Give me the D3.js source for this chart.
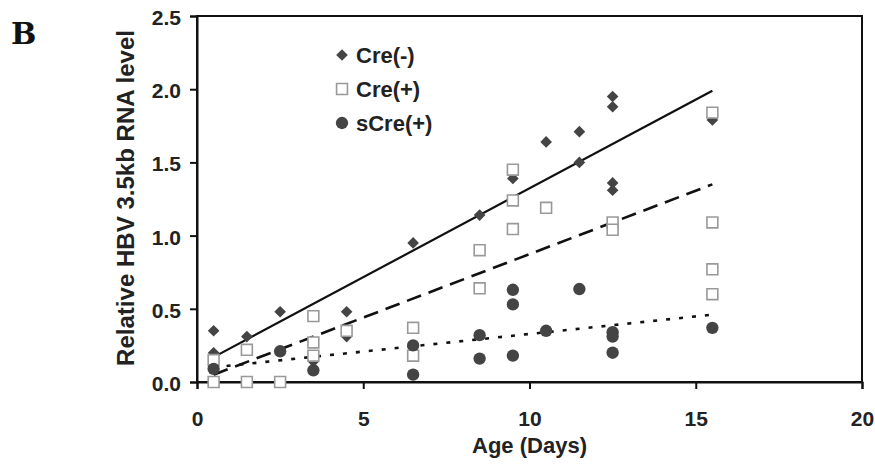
<!DOCTYPE html>
<html>
<head>
<meta charset="utf-8">
<script src="https://cdn.jsdelivr.net/npm/d3@7"></script>
<style>
  body { margin: 0; background: #fff; }
  text { font-family: "Liberation Sans", Arial, sans-serif; font-weight: bold; fill: #222; }
</style>
</head>
<body>
<svg id="chart" width="875" height="465"></svg>
<script>
// values: [age, level]
var creMinus = [
  [0.5, 0.35], [0.5, 0.20], [1.5, 0.31], [2.5, 0.48], [3.5, 0.14],
  [4.5, 0.48], [4.5, 0.31], [6.5, 0.95], [8.5, 1.14], [9.5, 1.39],
  [10.5, 1.64], [11.5, 1.71], [11.5, 1.50], [12.5, 1.95], [12.5, 1.88],
  [12.5, 1.36], [12.5, 1.31], [15.5, 1.79]
];
var crePlus = [
  [0.5, 0.15], [0.5, 0.0], [1.5, 0.22], [1.5, 0.0], [2.5, 0.0],
  [3.5, 0.45], [3.5, 0.27], [3.5, 0.18], [4.5, 0.35], [6.5, 0.37],
  [6.5, 0.18], [8.5, 0.90], [8.5, 0.64], [9.5, 1.45], [9.5, 1.24],
  [9.5, 1.045], [10.5, 1.19], [12.5, 1.09], [12.5, 1.04],
  [15.5, 1.84], [15.5, 1.09], [15.5, 0.77], [15.5, 0.60]
];
var sCrePlus = [
  [0.5, 0.09], [2.5, 0.21], [3.5, 0.08], [6.5, 0.25], [6.5, 0.05],
  [8.5, 0.32], [8.5, 0.16], [9.5, 0.63], [9.5, 0.53], [9.5, 0.18],
  [10.5, 0.35], [11.5, 0.635], [12.5, 0.34], [12.5, 0.31], [12.5, 0.20],
  [15.5, 0.37]
];
// trend lines, end points as drawn
var trendCreMinus = [[0.5, 0.17], [15.5, 1.99]];
var trendCrePlus = [[0.5, 0.05], [15.5, 1.35]];
var trendSCrePlus = [[0.5, 0.10], [15.5, 0.46]];

var xTicks = [0, 5, 10, 15, 20];
var yTicks = [0, 0.5, 1.0, 1.5, 2.0, 2.5];
var legendNames = ["Cre(-)", "Cre(+)", "sCre(+)"];

(function() {
  var svg = d3.select("#chart");
  var mLeft = 197, mRight = 862, mTop = 16, mBottom = 382;

  var x = d3.scaleLinear().domain([0, 20]).range([mLeft, mRight]);
  var y = d3.scaleLinear().domain([0, 2.5]).range([mBottom, mTop]);

  // frame
  svg.append("rect")
    .attr("x", mLeft).attr("y", mTop)
    .attr("width", mRight - mLeft).attr("height", mBottom - mTop)
    .attr("fill", "none").attr("stroke", "#111").attr("stroke-width", 2);

  var xAxis = svg.append("g")
    .attr("transform", "translate(0," + mBottom + ")")
    .call(d3.axisBottom(x).tickValues(xTicks).tickSize(7).tickPadding(22).tickFormat(d3.format("d")));
  var yAxis = svg.append("g")
    .attr("transform", "translate(" + mLeft + ",0)")
    .call(d3.axisLeft(y).tickValues(yTicks).tickSize(7).tickPadding(9).tickFormat(d3.format(".1f")));

  [xAxis, yAxis].forEach(function(g) {
    g.select(".domain").attr("stroke", "#111").attr("stroke-width", 2);
    g.selectAll(".tick line").attr("stroke", "#111").attr("stroke-width", 2);
    g.selectAll(".tick text").attr("font-size", 21);
  });
  yAxis.selectAll(".tick text").attr("dy", "0.4em");

  // trend lines
  var line = d3.line().x(function(d) { return x(d[0]); }).y(function(d) { return y(d[1]); });
  svg.append("path").datum(trendCreMinus).attr("d", line)
    .attr("fill", "none").attr("stroke", "#111").attr("stroke-width", 2.2);
  svg.append("path").datum(trendCrePlus).attr("d", line)
    .attr("fill", "none").attr("stroke", "#111").attr("stroke-width", 2.6)
    .attr("stroke-dasharray", "15,8");
  svg.append("path").datum(trendSCrePlus).attr("d", line)
    .attr("fill", "none").attr("stroke", "#111").attr("stroke-width", 2.6)
    .attr("stroke-dasharray", "4,9");

  var diamond = d3.symbol().type(d3.symbolSquare).size(68);
  var square = d3.symbol().type(d3.symbolSquare).size(118);
  var circle = d3.symbol().type(d3.symbolCircle).size(120);
  var markers = [
    { sym: diamond, fill: "#444", stroke: "none", rot: 45 },
    { sym: square, fill: "#fff", stroke: "#999", rot: 0 },
    { sym: circle, fill: "#444", stroke: "none", rot: 0 }
  ];

  function drawPoints(data, m) {
    svg.append("g").selectAll("path")
      .data(data).enter().append("path")
      .attr("d", m.sym)
      .attr("transform", function(d) { return "translate(" + x(d[0]) + "," + y(d[1]) + ") rotate(" + m.rot + ")"; })
      .attr("fill", m.fill)
      .attr("stroke", m.stroke)
      .attr("stroke-width", m.stroke === "none" ? 0 : 1.6);
  }
  drawPoints(creMinus, markers[0]);
  drawPoints(crePlus, markers[1]);
  drawPoints(sCrePlus, markers[2]);

  // legend
  var legend = svg.append("g").selectAll("g").data(legendNames).enter().append("g")
    .attr("transform", function(d, i) { return "translate(342," + (55 + i * 34) + ")"; });
  legend.append("path")
    .attr("d", function(d, i) { return markers[i].sym(); })
    .attr("transform", function(d, i) { return "rotate(" + markers[i].rot + ")"; })
    .attr("fill", function(d, i) { return markers[i].fill; })
    .attr("stroke", function(d, i) { return markers[i].stroke; })
    .attr("stroke-width", function(d, i) { return i === 1 ? 1.6 : 0; });
  legend.append("text")
    .attr("x", 14).attr("y", 8)
    .attr("font-size", 22)
    .text(function(d) { return d; });

  // axis titles
  svg.append("text")
    .attr("x", (mLeft + mRight) / 2).attr("y", 453)
    .attr("text-anchor", "middle").attr("font-size", 22)
    .text("Age (Days)");
  svg.append("text")
    .attr("transform", "translate(134,198) rotate(-90)")
    .attr("text-anchor", "middle").attr("font-size", 23)
    .attr("textLength", 336).attr("lengthAdjust", "spacingAndGlyphs")
    .text("Relative HBV 3.5kb RNA level");

  // panel letter
  svg.append("text")
    .attr("x", 11).attr("y", 44)
    .style("font-family", "'DejaVu Serif', serif").style("fill", "#111")
    .attr("font-size", 30)
    .text("B");
})();
</script>
</body>
</html>
